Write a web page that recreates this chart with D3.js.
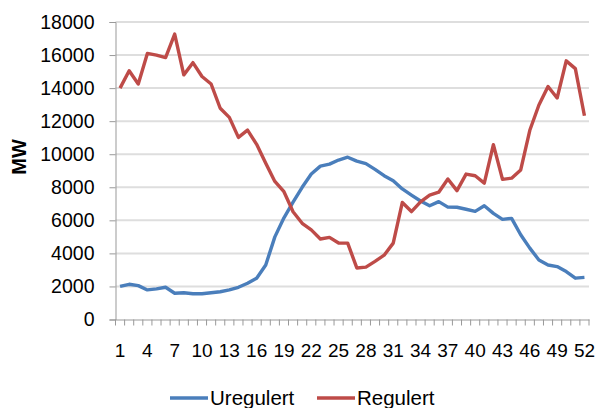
<!DOCTYPE html>
<html>
<head>
<meta charset="utf-8">
<script src="https://cdn.jsdelivr.net/npm/d3@7"></script>
<style>
  body { margin: 0; background: #fff; }
  text { font-family: "Liberation Sans", Arial, sans-serif; fill: #000; }
</style>
</head>
<body>
<div id="chart"></div>
<script>
const weeks = [1,2,3,4,5,6,7,8,9,10,11,12,13,14,15,16,17,18,19,20,21,22,23,24,25,26,
  27,28,29,30,31,32,33,34,35,36,37,38,39,40,41,42,43,44,45,46,47,48,49,50,51,52];
const uregulert = [2000,2130,2050,1790,1850,1950,1590,1620,1560,1560,
  1620,1680,1790,1950,2190,2500,3300,5000,6150,7100,
  8000,8800,9280,9400,9650,9820,9580,9430,9080,8700,
  8400,7900,7530,7170,6880,7130,6800,6790,6670,6540,
  6880,6420,6060,6120,5130,4320,3600,3300,3200,2900,
  2500,2550];
const regulert = [14000,15050,14250,16100,16000,15850,17270,14800,15540,14700,
  14250,12780,12230,11020,11460,10600,9450,8350,7730,6520,
  5820,5420,4870,4970,4630,4620,3120,3170,3520,3890,
  4620,7080,6530,7120,7530,7700,8500,7800,8800,8700,
  8250,10580,8480,8550,9050,11450,12980,14100,13400,15650,
  15180,12330];
const yTicks = [0,2000,4000,6000,8000,10000,12000,14000,16000,18000];
const xLabels = [1,4,7,10,13,16,19,22,25,28,31,34,37,40,43,46,49,52];

const w = 598, h = 408;
const plotLeft = 115.5, plotRight = 589, plotTop = 22, plotBottom = 319.5;

const svg = d3.select("#chart").append("svg")
  .attr("width", w).attr("height", h);

const x = d3.scaleBand().domain(weeks).range([plotLeft, plotRight]).padding(0);
const y = d3.scaleLinear().domain([0, 18000]).range([plotBottom, plotTop]);

// gridlines
svg.append("g")
  .selectAll("line")
  .data(yTicks.slice(1))
  .enter().append("line")
  .attr("x1", plotLeft).attr("x2", plotRight)
  .attr("y1", d => y(d)).attr("y2", d => y(d))
  .attr("stroke", "#dedede").attr("stroke-width", 2);

// y axis
const yAxis = d3.axisLeft(y).tickValues(yTicks).tickFormat(d3.format("d"))
  .tickSize(6).tickPadding(15);
const gy = svg.append("g").attr("transform", `translate(${plotLeft},0)`).call(yAxis);
gy.select(".domain").attr("stroke", "#999");
gy.selectAll(".tick line").attr("stroke", "#999");
gy.selectAll(".tick text").style("font-size", "19.5px").attr("fill", "#000");

// x axis
const xAxis = d3.axisBottom(x).tickSize(0).tickPadding(24)
  .tickValues(xLabels);
const gx = svg.append("g").attr("transform", `translate(0,${plotBottom})`).call(xAxis);
gx.select(".domain").attr("stroke", "#999");
gx.selectAll(".tick text").style("font-size", "19px").attr("fill", "#000");

// category boundary ticks
svg.append("g")
  .selectAll("line")
  .data(weeks.concat(["end"]))
  .enter().append("line")
  .attr("x1", d => d === "end" ? plotRight : x(d))
  .attr("x2", d => d === "end" ? plotRight : x(d))
  .attr("y1", plotBottom).attr("y2", plotBottom + 6)
  .attr("stroke", "#999").attr("stroke-width", 1);

// y label
svg.append("text")
  .attr("transform", "translate(26,157) rotate(-90)")
  .attr("text-anchor", "middle")
  .style("font-size", "20px").style("font-weight", "bold")
  .text("MW");

const line = d3.line()
  .x((d, i) => x(weeks[i]) + x.bandwidth() / 2)
  .y(d => y(d));

const series = [
  { name: "Uregulert", values: uregulert, color: "#4a7ebb" },
  { name: "Regulert", values: regulert, color: "#be4b48" }
];

series.forEach(s => {
  svg.append("path")
    .datum(s.values)
    .attr("fill", "none")
    .attr("stroke", s.color)
    .attr("stroke-width", 3.4)
    .attr("stroke-linejoin", "round")
    .attr("d", line);
});

// legend
const legendX = [170, 317];
series.forEach((s, i) => {
  const g = svg.append("g").attr("transform", `translate(${legendX[i]},398)`);
  g.append("line").attr("x1", 0).attr("x2", 38).attr("y1", 0).attr("y2", 0)
    .attr("stroke", s.color).attr("stroke-width", 3.4);
  g.append("text").attr("x", 40).attr("y", 7)
    .style("font-size", "20.5px").text(s.name);
});
</script>
</body>
</html>
